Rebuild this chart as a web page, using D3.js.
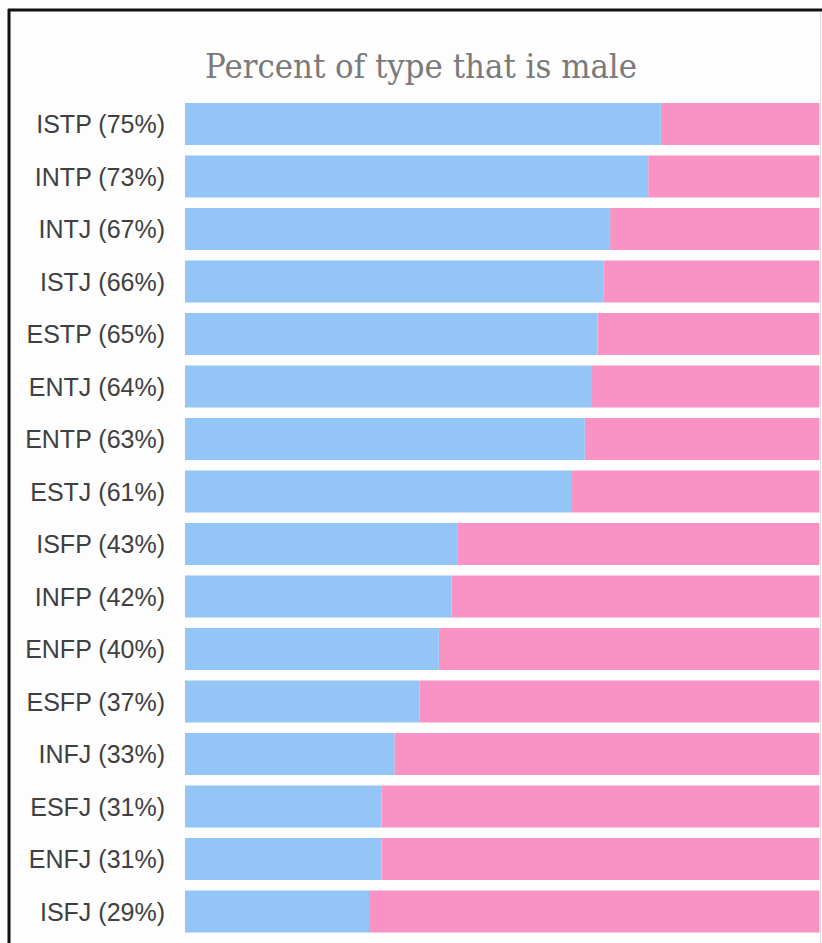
<!DOCTYPE html>
<html>
<head>
<meta charset="utf-8">
<script src="https://cdn.jsdelivr.net/npm/d3@7"></script>
<style>
  html, body { margin: 0; padding: 0; background: #fff; }
  svg { display: block; }
</style>
</head>
<body>
<div id="main"></div>
<script>
// personality types, ordered as in the picture
const types = ['ISTP', 'INTP', 'INTJ', 'ISTJ', 'ESTP', 'ENTJ', 'ENTP', 'ESTJ',
  'ISFP', 'INFP', 'ENFP', 'ESFP', 'INFJ', 'ESFJ', 'ENFJ', 'ISFJ']
// percent of each type that is male
const malePct = [75, 73, 67, 66, 65, 64, 63, 61, 43, 42, 40, 37, 33, 31, 31, 29]
const title = 'Percent of type that is male'

const W = 822, H = 943
const BLUE = '#93c6f6', PINK = '#f993c5'

const svg = d3.select('#main').append('svg').attr('width', W).attr('height', H)
svg.append('rect').attr('width', W).attr('height', H).attr('fill', '#fdfdfd')

const rows = types.map((t, i) => ({ type: t, male: malePct[i] }))

const x = d3.scaleLinear().domain([0, 100]).range([185, 819.5])
const y = d3.scaleBand().domain(types).range([103, 932.5]).paddingInner(0.2).paddingOuter(0)

// frame
svg.append('line').attr('x1', 8).attr('x2', W).attr('y1', 10).attr('y2', 10)
  .attr('stroke', '#111').attr('stroke-width', 3)
svg.append('line').attr('x1', 9).attr('x2', 9).attr('y1', 9).attr('y2', H)
  .attr('stroke', '#111').attr('stroke-width', 3)
svg.append('line').attr('x1', 820.5).attr('x2', 820.5).attr('y1', 12).attr('y2', H)
  .attr('stroke', '#ddd').attr('stroke-width', 1)

svg.append('text')
  .attr('x', 205).attr('y', 78)
  .attr('font-family', '"DejaVu Serif", serif')
  .attr('font-size', 33)
  .attr('fill', '#7a7a7a')
  .attr('textLength', 432)
  .attr('lengthAdjust', 'spacingAndGlyphs')
  .text(title)

const g = svg.append('g').attr('class', 'bars')

// female remainder, then male part
g.selectAll('rect.female').data(rows).join('rect')
  .attr('class', 'female')
  .attr('x', d => x(d.male))
  .attr('y', d => y(d.type))
  .attr('width', d => x(100) - x(d.male))
  .attr('height', y.bandwidth())
  .attr('fill', PINK)

g.selectAll('rect.male').data(rows).join('rect')
  .attr('class', 'male')
  .attr('x', x(0))
  .attr('y', d => y(d.type))
  .attr('width', d => x(d.male) - x(0))
  .attr('height', y.bandwidth())
  .attr('fill', BLUE)

g.selectAll('text.label').data(rows).join('text')
  .attr('class', 'label')
  .attr('x', 165)
  .attr('y', d => y(d.type) + y.bandwidth() / 2)
  .attr('dy', '0.36em')
  .attr('text-anchor', 'end')
  .attr('font-family', '"Liberation Sans", Arial, sans-serif')
  .attr('font-size', 25)
  .attr('fill', '#404040')
  .text(d => d.type + ' (' + d.male + '%)')
</script>
</body>
</html>
